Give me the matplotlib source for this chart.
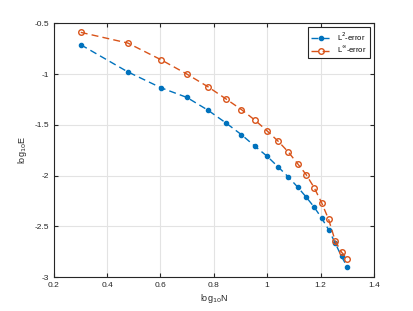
import numpy as np
import matplotlib
matplotlib.use('Agg')
import matplotlib.pyplot as plt

# N = 2..20, plotted on log10 scale
N = np.arange(2, 21)
logN = np.log10(N)

# log10 of the errors
l2_err = [-0.711, -0.978, -1.135, -1.23, -1.356, -1.481, -1.596, -1.711, -1.81, -1.915,
          -2.013, -2.112, -2.211, -2.310, -2.418, -2.533, -2.665, -2.797, -2.902]
linf_err = [-0.589, -0.694, -0.859, -1.0, -1.125, -1.244, -1.349, -1.454, -1.56, -1.662,
            -1.767, -1.882, -1.99, -2.118, -2.267, -2.431, -2.645, -2.754, -2.82]

x_ticks = [0.2, 0.4, 0.6, 0.8, 1.0, 1.2, 1.4]
x_labels = ['0.2', '0.4', '0.6', '0.8', '1', '1.2', '1.4']
y_ticks = [-3, -2.5, -2, -1.5, -1, -0.5]
y_labels = ['-3', '-2.5', '-2', '-1.5', '-1', '-0.5']

plt.rcParams['font.family'] = ['Liberation Sans', 'DejaVu Sans']

fig = plt.figure(figsize=(4.14, 3.11), dpi=100)
ax = fig.add_axes([0.130, 0.109, 0.773, 0.816])

blue = '#0072BD'
orange = '#D95319'
ax.plot(logN, l2_err, '--', color=blue, marker='.', markersize=6, linewidth=1.0,
        dashes=(5, 3), label=r'L$^2$-error')
ax.plot(logN, linf_err, '--', color=orange, marker='o', markersize=4,
        markerfacecolor='none', markeredgewidth=1.0, linewidth=1.0,
        dashes=(5, 3), label=r'L$^{\infty}$-error')

ax.set_xlim(0.2, 1.4)
ax.set_ylim(-3, -0.5)
ax.set_xticks(x_ticks)
ax.set_xticklabels(x_labels)
ax.set_yticks(y_ticks)
ax.set_yticklabels(y_labels)
ax.grid(True, color='#e3e3e3', linewidth=0.8)
ax.set_axisbelow(True)
ax.tick_params(direction='in', length=3, width=0.8, top=True, right=True,
               labelsize=6, colors='#262626', pad=3.5)
for s in ax.spines.values():
    s.set_color('#262626')
    s.set_linewidth(0.8)

ax.set_xlabel(r'log$_{10}$N', fontsize=6.5, color='#262626', labelpad=2)
ax.set_ylabel(r'log$_{10}$E', fontsize=6.5, color='#262626', labelpad=4)

leg = ax.legend(loc='upper right', fontsize=5.5, fancybox=False, framealpha=1,
                edgecolor='#262626', borderpad=0.4, handlelength=2.6,
                labelspacing=0.3, borderaxespad=0.5)
leg.get_frame().set_linewidth(0.8)

fig.savefig('out.png', dpi=100)
